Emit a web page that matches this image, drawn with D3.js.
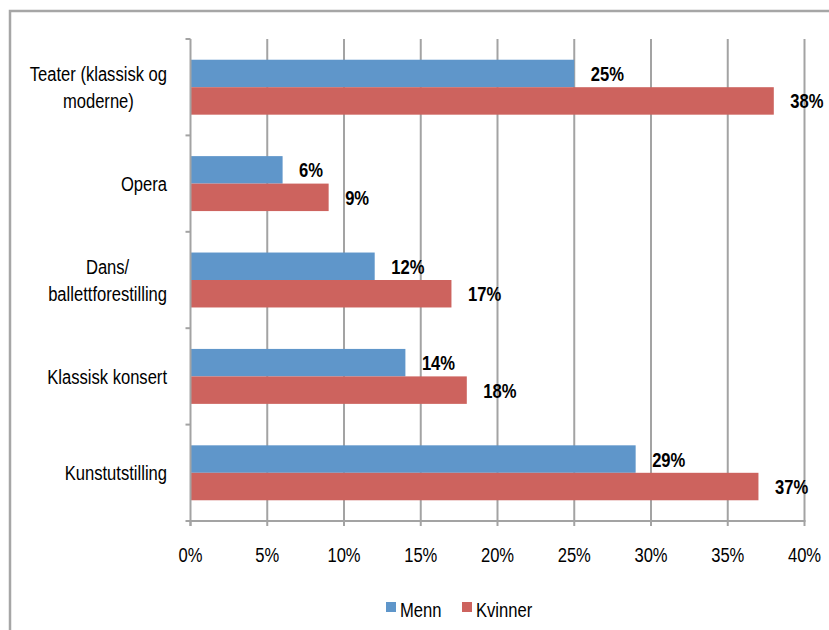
<!DOCTYPE html>
<html>
<head>
<meta charset="utf-8">
<script src="https://cdn.jsdelivr.net/npm/d3@7/dist/d3.min.js"></script>
<style>
  html, body { margin: 0; padding: 0; background: #ffffff; }
  svg { display: block; }
  text { font-family: "Liberation Sans", Arial, sans-serif; fill: #000; }
</style>
</head>
<body>
<svg id="chart" width="829" height="630"></svg>
<script>
// Activity categories (top to bottom), two series in percent
const categories = [
  ["Teater (klassisk og", "moderne)"],
  ["Opera"],
  ["Dans/", "ballettforestilling"],
  ["Klassisk konsert"],
  ["Kunstutstilling"]
];
const menn    = [25, 6, 12, 14, 29];
const kvinner = [38, 9, 17, 18, 37];
const seriesNames = ["Menn", "Kvinner"];
const xTicks = [0, 5, 10, 15, 20, 25, 30, 35, 40];

const colors = ["#5f96ca", "#cd635e"];
const gridColor = "#a3a3a3";
const fontSize = 21;
const narrow = 0.79;   // horizontal squeeze for a condensed look

const svg = d3.select("#chart");

// Draw a horizontally condensed text anchored at (x, y)
function label(parent, x, y, str, anchor, bold) {
  const g = parent.append("g").attr("transform", `translate(${x},${y}) scale(${narrow},1)`);
  const t = g.append("text")
    .attr("font-size", fontSize)
    .attr("text-anchor", anchor || "start")
    .text(str);
  if (bold) t.attr("font-weight", "bold");
  return { g, t, width: () => t.node().getComputedTextLength() * narrow };
}

// Outer frame (open to the right and bottom edges of the page)
svg.append("rect")
  .attr("x", 10).attr("y", 11)
  .attr("width", 840).attr("height", 640)
  .attr("fill", "none")
  .attr("stroke", "#a6a6a6")
  .attr("stroke-width", 2.5);

const plot = { left: 190.5, right: 804.5, top: 39, bottom: 521 };

const x = d3.scaleLinear().domain([0, 40]).range([plot.left, plot.right]);
const idx = categories.map((d, i) => i);
const y = d3.scaleBand().domain(idx).range([plot.top, plot.bottom]).paddingInner(0).paddingOuter(0);
const barH = y.bandwidth() * 0.285;

// Vertical gridlines
svg.append("g").selectAll("line").data(xTicks.filter(t => t > 0)).join("line")
  .attr("x1", d => x(d)).attr("x2", d => x(d))
  .attr("y1", plot.top).attr("y2", plot.bottom)
  .attr("stroke", gridColor).attr("stroke-width", 2);

// Bars and value labels
const series = [menn, kvinner];
const valueLayer = svg.append("g");
series.forEach((vals, s) => {
  svg.append("g").selectAll("rect").data(vals).join("rect")
    .attr("x", x(0))
    .attr("y", (d, i) => y(i) + y.bandwidth() / 2 - barH + s * barH)
    .attr("width", d => x(d) - x(0))
    .attr("height", barH)
    .attr("fill", colors[s]);
  vals.forEach((d, i) => {
    const cy = y(i) + y.bandwidth() / 2 - barH + s * barH + barH / 2;
    label(valueLayer, x(d) + 16.5, cy + 7.5, d + "%", "start", true);
  });
});

// X axis
const xAxis = svg.append("g").attr("transform", `translate(0,${plot.bottom})`);
xAxis.append("line")
  .attr("x1", plot.left - 1).attr("x2", plot.right + 1)
  .attr("stroke", gridColor).attr("stroke-width", 2);
xAxis.selectAll("line.tick").data(xTicks).join("line").attr("class", "tick")
  .attr("x1", d => x(d)).attr("x2", d => x(d))
  .attr("y1", 0).attr("y2", 5)
  .attr("stroke", gridColor).attr("stroke-width", 2);
xTicks.forEach(t => label(xAxis, x(t), 41, t + "%", "middle"));

// Y axis
const yAxis = svg.append("g");
yAxis.append("line")
  .attr("x1", plot.left).attr("x2", plot.left)
  .attr("y1", plot.top).attr("y2", plot.bottom + 5)
  .attr("stroke", gridColor).attr("stroke-width", 2);
const yTickPos = idx.map(i => y(i)).concat([plot.bottom]);
yAxis.selectAll("line.tick").data(yTickPos).join("line").attr("class", "tick")
  .attr("x1", plot.left - 5).attr("x2", plot.left)
  .attr("y1", d => d).attr("y2", d => d)
  .attr("stroke", gridColor).attr("stroke-width", 2);

// Category labels: single lines right-aligned, wrapped lines centred on their widest line
const labelRight = 167;
const lineH = 26.7;
categories.forEach((lines, i) => {
  const cy = y(i) + y.bandwidth() / 2;
  const items = lines.map((ln, k) =>
    label(yAxis, 0, 0, ln, lines.length === 1 ? "end" : "middle"));
  const maxW = d3.max(items, it => it.width());
  items.forEach((it, k) => {
    const ly = cy + 7.5 + (k - (lines.length - 1) / 2) * lineH;
    const lx = lines.length === 1 ? labelRight : labelRight - maxW / 2;
    it.g.attr("transform", `translate(${lx},${ly}) scale(${narrow},1)`);
  });
});

// Legend
const legend = svg.append("g");
const legendX = [386, 462];
seriesNames.forEach((name, s) => {
  legend.append("rect")
    .attr("x", legendX[s]).attr("y", 602)
    .attr("width", 10).attr("height", 10)
    .attr("fill", colors[s]);
  label(legend, legendX[s] + 14, 616.5, name, "start");
});
</script>
</body>
</html>
